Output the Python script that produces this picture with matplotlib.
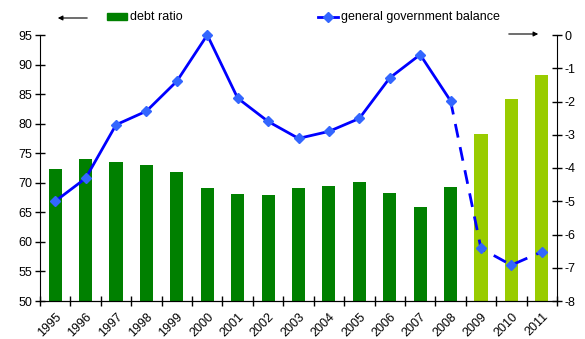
import numpy as np
import matplotlib
matplotlib.use("Agg")
import matplotlib.pyplot as plt
from matplotlib.lines import Line2D
from matplotlib.patches import Rectangle, FancyArrowPatch

plt.rcParams["font.family"] = ["Liberation Sans", "DejaVu Sans"]
plt.rcParams["axes.unicode_minus"] = False

# ── data ────────────────────────────────────────────────────────────────────
years = ["1995", "1996", "1997", "1998", "1999", "2000", "2001", "2002", "2003",
         "2004", "2005", "2006", "2007", "2008", "2009", "2010", "2011"]
debt_ratio = [72.3, 74.0, 73.5, 73.0, 71.8, 69.1, 68.1, 67.9, 69.1,
              69.4, 70.1, 68.3, 65.9, 69.3, 78.2, 84.1, 88.2]
balance = [-5.0, -4.31, -2.70, -2.29, -1.39, 0.0, -1.90, -2.60, -3.11,
           -2.90, -2.51, -1.29, -0.59, -1.98, -6.42, -6.92, -6.52]
n_actual = 14  # 1995-2008 observed, 2009-2011 forecast

DARK_GREEN = "#008000"
LIGHT_GREEN = "#99cc00"
LINE_BLUE = "#0000ff"
MARK_BLUE = "#3366ff"

x = np.arange(len(years))
bar_colors = [DARK_GREEN if i < n_actual else LIGHT_GREEN for i in x]

fig = plt.figure(figsize=(5.85, 3.39), dpi=100)
ax = fig.add_axes([40 / 585, 38 / 339, 517 / 585, 266 / 339])
ax2 = ax.twinx()

ax.bar(x, debt_ratio, width=0.43, color=bar_colors, zorder=2)
ax.set_ylim(50, 95)
ax.set_xlim(-0.5, len(years) - 0.5)
ax.set_yticks(np.arange(50, 96, 5))

# balance line: solid for actuals, dashed for the forecast part
ax2.plot(x[:n_actual], balance[:n_actual], color=LINE_BLUE, lw=2, zorder=3,
         clip_on=False)
ax2.plot(x[n_actual - 1:], balance[n_actual - 1:], color=LINE_BLUE, lw=2,
         ls=(0, (5, 3.5)), zorder=3, clip_on=False)
ax2.plot(x, balance, ls="none", marker="D", ms=5, color=MARK_BLUE, zorder=4,
         clip_on=False)
ax2.set_ylim(-8, 0)
ax2.set_yticks(np.arange(-8, 1, 1))

for a in (ax, ax2):
    a.spines["top"].set_visible(False)
    a.tick_params(axis="y", direction="inout", length=7, width=1, labelsize=9,
                  pad=2)
ax2.spines["left"].set_visible(False)
ax.spines["right"].set_visible(False)

ax.set_xticks(x)
ax.set_xticklabels(years, rotation=45, ha="right", rotation_mode="anchor",
                   fontsize=9)
ax.tick_params(axis="x", which="major", length=0, pad=7)
ax.set_xticks(np.arange(-0.5, len(years), 1), minor=True)
ax.tick_params(axis="x", which="minor", direction="inout", length=7, width=1)

# legend and axis arrows drawn in figure pixels
def fx(px):
    return px / 585

def fy(py):
    return 1 - py / 339

fig.add_artist(Rectangle((fx(107), fy(20)), 20 / 585, 7 / 339,
                         color=DARK_GREEN, transform=fig.transFigure))
fig.text(fx(130), fy(17), "debt ratio", fontsize=9, va="center")
fig.add_artist(Line2D([fx(318), fx(338)], [fy(17), fy(17)], color=LINE_BLUE,
                      lw=2, transform=fig.transFigure))
fig.add_artist(Line2D([fx(328)], [fy(17)], marker="D", ms=5, color=MARK_BLUE,
                      transform=fig.transFigure))
fig.text(fx(341), fy(17), "general government balance", fontsize=9,
         va="center")

fig.patches.append(FancyArrowPatch(
    (fx(90), fy(18)), (fx(55), fy(18)), transform=fig.transFigure,
    arrowstyle="-|>", mutation_scale=7, color="black", lw=0.8))
fig.patches.append(FancyArrowPatch(
    (fx(506), fy(34)), (fx(541), fy(34)), transform=fig.transFigure,
    arrowstyle="-|>", mutation_scale=7, color="black", lw=0.8))

fig.savefig("out.png", dpi=100)
